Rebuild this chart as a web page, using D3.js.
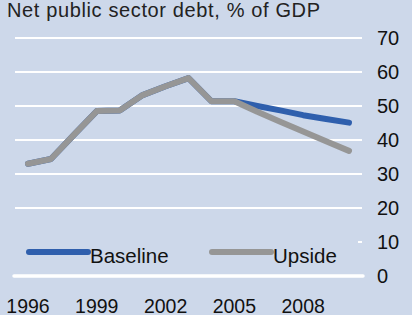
<!DOCTYPE html>
<meta charset="utf-8">
<script src="https://d3js.org/d3.v7.min.js"></script>
<style>
    body {margin: 0; background: #cdd8ea; font-family: 'Liberation Sans', Arial, sans-serif;}
</style>
<body>
<svg width="412" height="315"></svg>
<script>
    // data
    const years = [1996, 1997, 1998, 1999, 2000, 2001, 2002, 2003, 2004, 2005, 2006, 2007, 2008, 2009, 2010];
    const baseline = [33, 34.4, 41.5, 48.5, 48.7, 53.2, 55.8, 58.2, 51.4, 51.4, 50, 48.7, 47.3, 46.2, 45.1];
    const upside =   [33, 34.4, 41.5, 48.5, 48.7, 53.2, 55.8, 58.2, 51.4, 51.4, 48.3, 45.4, 42.5, 39.6, 36.8];
    const yTicks = [0, 10, 20, 30, 40, 50, 60, 70];
    const xTicks = [1996, 1999, 2002, 2005, 2008];
    const seriesNames = ["Baseline", "Upside"];
    const seriesColors = ["#2f5fad", "#969696"];

    var svg = d3.select("svg"),
        width = +svg.attr("width"),
        height = +svg.attr("height");

    svg.append("rect").attr("width", width).attr("height", height).attr("fill", "#cdd8ea");

    var x = d3.scaleLinear().domain([1996, 2010]).range([28, 349]);
    var y = d3.scaleLinear().domain([0, 70]).range([276, 38]);

    svg.append("text")
        .attr("x", 7).attr("y", 17)
        .attr("textLength", 313)
        .attr("lengthAdjust", "spacing")
        .style("font-size", "20px")
        .style("fill", "#222")
        .text("Net public sector debt, % of GDP");

    // grid
    svg.append("g").selectAll("line")
        .data(yTicks.filter(d => d > 0))
        .enter().append("line")
        .attr("x1", 15).attr("x2", 362)
        .attr("y1", d => y(d)).attr("y2", d => y(d))
        .style("stroke", "#fff").style("stroke-width", 2);

    // right-hand value labels
    svg.append("g").selectAll("text")
        .data(yTicks)
        .enter().append("text")
        .attr("x", 377).attr("y", d => y(d))
        .attr("dy", "0.36em")
        .style("font-size", "20px")
        .style("fill", "#111")
        .text(d => d);

    // year labels
    svg.append("g").selectAll("text")
        .data(xTicks)
        .enter().append("text")
        .attr("x", d => x(d)).attr("y", 313)
        .attr("text-anchor", "middle")
        .style("font-size", "19.5px")
        .style("fill", "#111")
        .text(d => d);

    // legend box hides the 10 gridline
    svg.append("rect")
        .attr("x", 14).attr("y", y(10) - 10).attr("width", 344).attr("height", 20)
        .attr("fill", "#cdd8ea");

    // zero line
    svg.append("line")
        .attr("x1", 14).attr("x2", 363)
        .attr("y1", y(0)).attr("y2", y(0))
        .style("stroke", "#fff").style("stroke-width", 3.5)
        .style("stroke-linecap", "round");

    var line = d3.line()
        .x((d, i) => x(years[i]))
        .y(d => y(d));

    [baseline, upside].forEach(function(s, k){
        svg.append("path")
            .datum(s)
            .attr("d", line)
            .style("fill", "none")
            .style("stroke", seriesColors[k])
            .style("stroke-width", 6)
            .style("stroke-linejoin", "round")
            .style("stroke-linecap", "round");
    });

    // legend
    var legX = [29, 212];
    var leg = svg.append("g").selectAll("g")
        .data(seriesNames)
        .enter().append("g")
        .attr("transform", (d, i) => "translate(" + legX[i] + "," + 252 + ")");
    leg.append("line")
        .attr("x1", 0).attr("x2", 59)
        .style("stroke", (d, i) => seriesColors[i])
        .style("stroke-width", 6)
        .style("stroke-linecap", "round");
    leg.append("text")
        .attr("x", 61).attr("y", 10.5)
        .style("font-size", "20.5px")
        .style("fill", "#111")
        .text(d => d);
</script>
</body>
